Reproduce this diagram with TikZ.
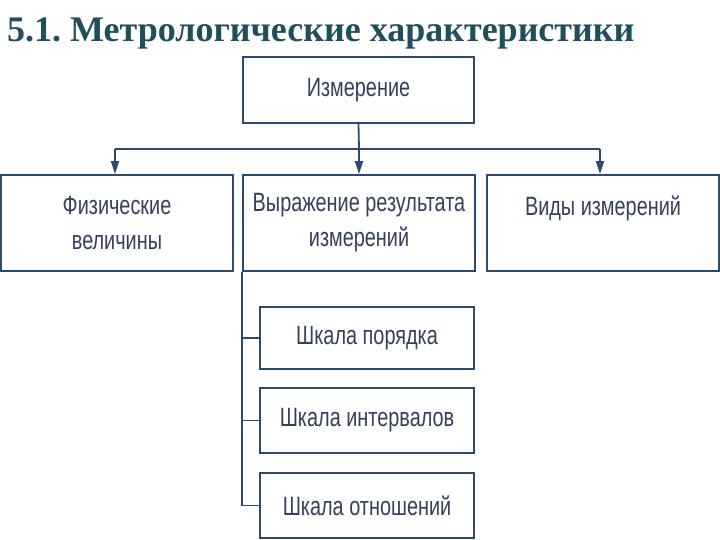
\documentclass[tikz,border=0pt]{standalone}
\usepackage{fontspec}
\usetikzlibrary{arrows.meta}
\setmainfont{Liberation Serif}
\newfontfamily\boxfont[FakeStretch=0.75]{Liberation Sans}
\newfontfamily\titlefont{Liberation Serif}
\definecolor{linecol}{RGB}{44,74,112}
\definecolor{textcol}{RGB}{52,64,92}
\definecolor{titlecol}{RGB}{31,78,92}
\tikzset{
  box/.style={draw=linecol, line width=1.8pt, fill=white, inner sep=0pt,
    align=center, text=textcol,
    font=\boxfont\fontsize{26.5}{35}\selectfont},
  conn/.style={draw=linecol, line width=1.8pt},
  arr/.style={conn, -{Triangle[width=8pt,length=13pt]}}
}
\begin{document}
\frenchspacing
\begin{tikzpicture}[x=1pt,y=1pt]
\useasboundingbox (0,0) rectangle (720,-540);
\node[anchor=base west, text=titlecol, inner sep=0pt,
  font=\titlefont\bfseries\fontsize{36}{40}\selectfont] (title) at (7,-41.5)
  {5.1. Метрологические характеристики};
\node[box, minimum width=231, minimum height=66] (top) at (358.5,-90) {Измерение};
\node[box, minimum width=232, minimum height=96] (left) at (117,-223) {Физические\\величины};
\node[box, minimum width=232, minimum height=96] (mid) at (359,-223) {Выражение результата\\измерений};
\node[box, minimum width=232, minimum height=96] (right) at (603,-223) {Виды измерений\\\mbox{}};
\node[box, minimum width=214, minimum height=62] (s1) at (367,-338) {Шкала порядка};
\node[box, minimum width=214, minimum height=65] (s2) at (367,-420.5) {Шкала интервалов};
\node[box, minimum width=214, minimum height=65] (s3) at (367,-505.5) {Шкала отношений};
\coordinate (j1) at (115,-149);
\coordinate (j2) at (359,-149);
\coordinate (j3) at (600,-149);
\draw[conn] (top.south) -- (j2);
\draw[conn] (j1) -- (j3);
\draw[arr] (j1) -- (j1 |- left.north);
\draw[arr] (j2) -- (j2 |- mid.north);
\draw[arr] (j3) -- (j3 |- right.north);
\draw[conn] (mid.south west) |- (s3.west);
\draw[conn] (mid.south west |- s1.west) -- (s1.west);
\draw[conn] (mid.south west |- s2.west) -- (s2.west);
\end{tikzpicture}
\end{document}
